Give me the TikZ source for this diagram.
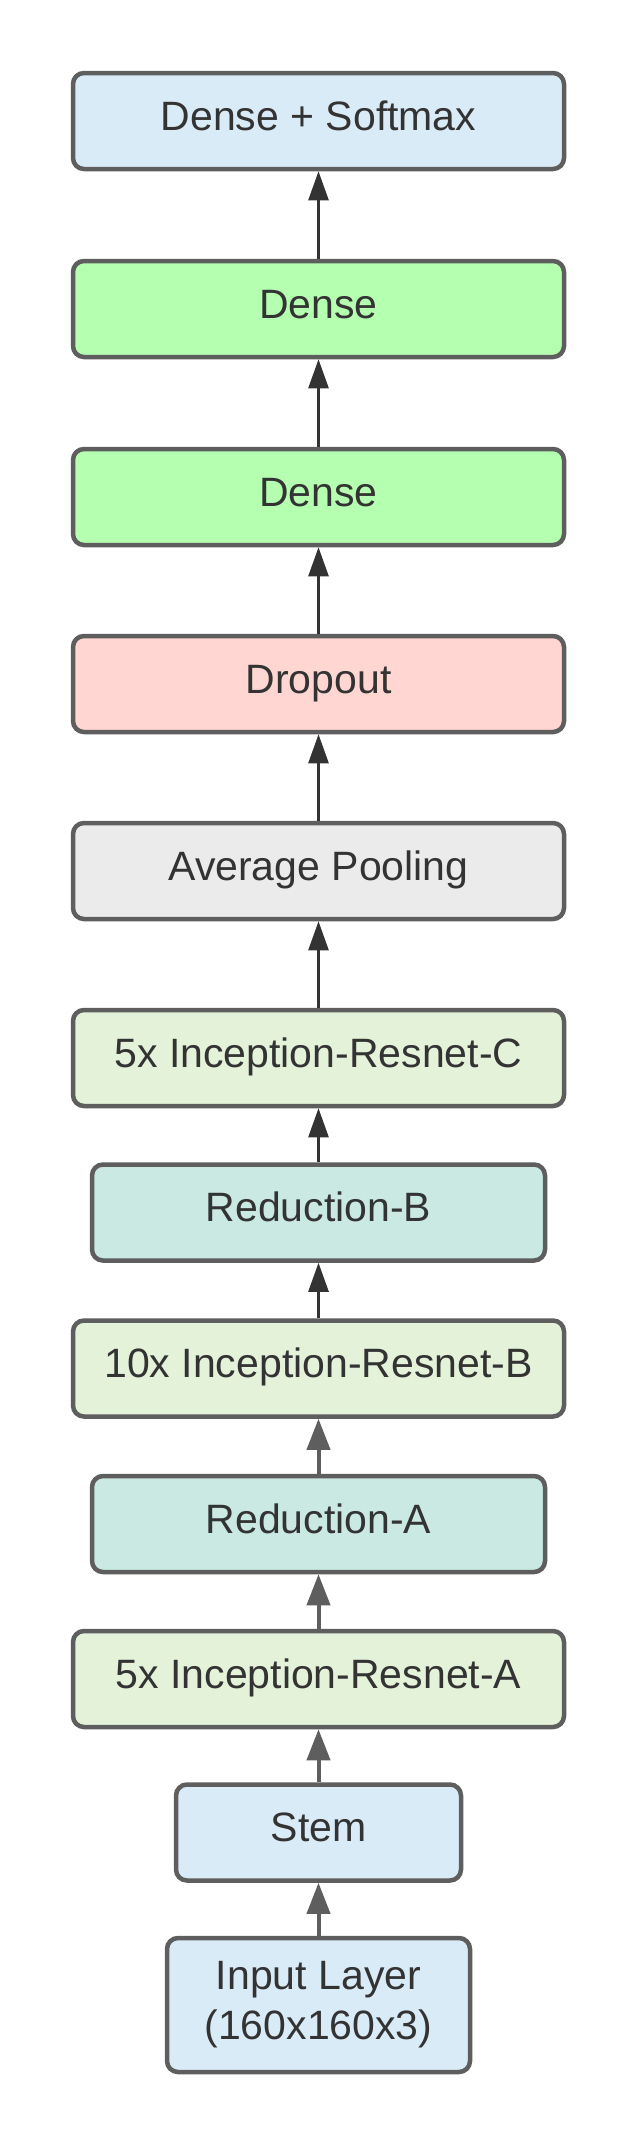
\documentclass[tikz,border=0pt]{standalone}
\usepackage{fontspec}
\setmainfont{Liberation Sans}
\usetikzlibrary{arrows.meta}
\definecolor{boxline}{HTML}{5E5E5E}
\definecolor{boxtext}{HTML}{333333}
\definecolor{paleblue}{HTML}{DAEBF8}
\definecolor{palegreen}{HTML}{B5FFB1}
\definecolor{palered}{HTML}{FFD6D1}
\definecolor{palegray}{HTML}{EBEBEB}
\definecolor{paleolive}{HTML}{E3F2D9}
\definecolor{paleteal}{HTML}{C9E9E2}
\begin{document}
\begin{tikzpicture}
		[x=1pt,y=-1pt,
		layer/.style={rectangle,rounded corners=11pt,draw=boxline,line width=4.5pt,
inner sep=0pt,minimum height=96pt,text=boxtext,align=center,
font=\fontsize{41}{50}\selectfont},
		oneline/.style={layer,text height=29.5pt,text depth=11.5pt},
		wide/.style={oneline,minimum width=491pt},
		narrow/.style={oneline,minimum width=453pt},
		flowdark/.style={<-,draw=boxtext,line width=2.5pt,
>={Triangle[length=29pt,width=20pt]}},
		flowgray/.style={<-,draw=boxline,line width=4pt,
>={Triangle[length=31pt,width=23pt]}}]
		\path[use as bounding box] (0,0) rectangle (638,2147);
		\node at (318.5, 2005) (input) [layer,fill=paleblue,minimum width=303pt,minimum height=134pt] {Input Layer\\(160x160x3)};
		\node at (318.5, 1832.5) (stem) [oneline,fill=paleblue,minimum width=285pt] {Stem}
			edge [flowgray] (input);
		\node at (318.5, 1679) (resA) [wide,fill=paleolive] {5x Inception-Resnet-A}
			edge [flowgray] (stem);
		\node at (318.5, 1524) (redA) [narrow,fill=paleteal] {Reduction-A}
			edge [flowgray] (resA);
		\node at (318.5, 1368.5) (resB) [wide,fill=paleolive] {10x Inception-Resnet-B}
			edge [flowgray] (redA);
		\node at (318.5, 1212.5) (redB) [narrow,fill=paleteal] {Reduction-B}
			edge [flowdark] (resB);
		\node at (318.5, 1058) (resC) [wide,fill=paleolive] {5x Inception-Resnet-C}
			edge [flowdark] (redB);
		\node at (318.5, 871) (pool) [wide,fill=palegray] {Average Pooling}
			edge [flowdark] (resC);
		\node at (318.5, 684) (drop) [wide,fill=palered] {Dropout}
			edge [flowdark] (pool);
		\node at (318.5, 497) (dense2) [wide,fill=palegreen] {Dense}
			edge [flowdark] (drop);
		\node at (318.5, 309) (dense1) [wide,fill=palegreen] {Dense}
			edge [flowdark] (dense2);
		\node at (318.5, 121) (out) [wide,fill=paleblue] {Dense + Softmax}
			edge [flowdark] (dense1);
	\end{tikzpicture}
\end{document}
